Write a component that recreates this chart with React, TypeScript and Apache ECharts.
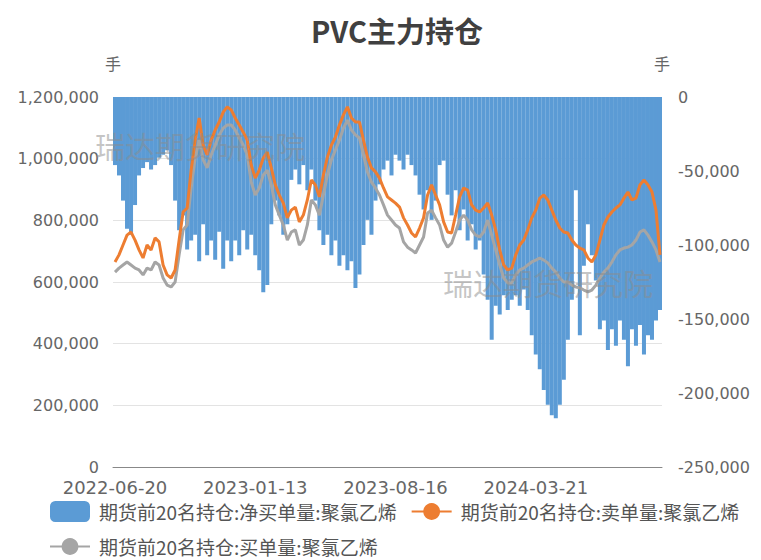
import React, { useEffect, useRef } from "react";
import * as echarts from "echarts";

// Labelled dates on the category axis (every 35th category)
const tickDates = ["2022-06-20", "2023-01-13", "2023-08-16", "2024-03-21"];
const tailCount = 32;
const stepsPerLabel = 35;

// 期货前20名持仓:净买单量:聚氯乙烯 (right axis, 手)
const netBuy = [
  -46000, -53000, -70000, -89000, -93000, -73000, -53000, -48000, -44000, -49000,
  -46000, -41000, -39000, -36000, -46000, -70000, -90000, -80000, -103000, -97000,
  -93000, -111000, -86000, -107000, -97000, -110000, -91000, -116000, -97000, -111000,
  -97000, -107000, -90000, -103000, -93000, -107000, -117000, -132000, -127000, -86000,
  -70000, -80000, -93000, -86000, -56000, -49000, -59000, -46000, -63000, -49000,
  -70000, -90000, -100000, -93000, -107000, -97000, -114000, -107000, -117000, -111000,
  -129000, -120000, -100000, -83000, -93000, -70000, -59000, -49000, -43000, -53000,
  -39000, -43000, -49000, -39000, -46000, -53000, -66000, -76000, -63000, -83000,
  -70000, -46000, -43000, -66000, -80000, -63000, -90000, -76000, -97000, -86000,
  -103000, -97000, -120000, -137000, -164000, -141000, -147000, -134000, -144000, -137000,
  -134000, -141000, -130000, -144000, -161000, -174000, -184000, -198000, -208000, -215000,
  -217000, -208000, -191000, -164000, -137000, -63000, -161000, -114000, -86000, -107000,
  -124000, -157000, -151000, -171000, -157000, -168000, -151000, -164000, -182000, -157000,
  -168000, -154000, -174000, -161000, -164000, -151000, -144000,
];

// 期货前20名持仓:卖单量:聚氯乙烯 (left axis, 手)
const sellVol = [
  665000, 688000, 720000, 752000, 762000, 736000, 704000, 678000, 720000, 704000,
  743000, 730000, 655000, 623000, 613000, 639000, 736000, 827000, 840000, 963000,
  1060000, 1132000, 1044000, 1012000, 1060000, 1093000, 1119000, 1151000, 1168000, 1158000,
  1132000, 1109000, 1086000, 1060000, 979000, 937000, 963000, 1002000, 1021000, 970000,
  915000, 882000, 856000, 808000, 833000, 843000, 795000, 817000, 866000, 931000,
  915000, 876000, 947000, 1005000, 1044000, 1070000, 1109000, 1142000, 1168000, 1132000,
  1119000, 1119000, 1060000, 1005000, 970000, 957000, 937000, 905000, 876000, 866000,
  856000, 843000, 808000, 785000, 759000, 746000, 775000, 808000, 882000, 915000,
  882000, 850000, 795000, 762000, 759000, 817000, 876000, 905000, 898000, 850000,
  833000, 827000, 840000, 856000, 817000, 769000, 704000, 655000, 639000, 645000,
  688000, 720000, 736000, 769000, 808000, 833000, 872000, 882000, 866000, 833000,
  801000, 775000, 762000, 759000, 736000, 720000, 710000, 704000, 678000, 665000,
  688000, 736000, 785000, 811000, 827000, 840000, 850000, 872000, 892000, 866000,
  872000, 915000, 931000, 915000, 892000, 833000, 688000,
];

// 期货前20名持仓:买单量:聚氯乙烯 (left axis, 手)
const buyVol = [
  632000, 645000, 655000, 665000, 655000, 645000, 639000, 623000, 645000, 639000,
  665000, 655000, 613000, 590000, 584000, 600000, 688000, 769000, 785000, 905000,
  1002000, 1060000, 996000, 970000, 1012000, 1044000, 1077000, 1099000, 1109000, 1109000,
  1093000, 1067000, 1044000, 1012000, 924000, 882000, 905000, 947000, 963000, 915000,
  850000, 817000, 785000, 736000, 762000, 769000, 720000, 736000, 785000, 866000,
  850000, 817000, 882000, 947000, 996000, 1028000, 1060000, 1099000, 1125000, 1093000,
  1077000, 1067000, 1012000, 957000, 924000, 905000, 882000, 850000, 817000, 801000,
  785000, 775000, 730000, 713000, 704000, 694000, 720000, 746000, 824000, 833000,
  808000, 785000, 736000, 713000, 726000, 762000, 801000, 817000, 801000, 769000,
  752000, 746000, 762000, 801000, 752000, 704000, 655000, 613000, 597000, 597000,
  623000, 639000, 645000, 655000, 665000, 671000, 678000, 671000, 662000, 645000,
  632000, 613000, 600000, 600000, 590000, 584000, 581000, 574000, 568000, 574000,
  590000, 613000, 632000, 645000, 665000, 688000, 704000, 710000, 713000, 720000,
  736000, 762000, 769000, 752000, 730000, 704000, 665000,
];

const leftTicks = { min: 0, max: 1200000, interval: 200000 };
const rightTicks = { min: -250000, max: 0, interval: 50000 };

const seriesNames = [
  "期货前20名持仓:净买单量:聚氯乙烯",
  "期货前20名持仓:卖单量:聚氯乙烯",
  "期货前20名持仓:买单量:聚氯乙烯",
];

function fmtDate(d: Date): string {
  const y = d.getUTCFullYear();
  const m = String(d.getUTCMonth() + 1).padStart(2, "0");
  const dd = String(d.getUTCDate()).padStart(2, "0");
  return `${y}-${m}-${dd}`;
}

function buildCategories(): string[] {
  const out: string[] = [];
  const day = 86400000;
  for (let k = 0; k < tickDates.length; k++) {
    const a = Date.parse(tickDates[k] + "T00:00:00Z");
    if (k < tickDates.length - 1) {
      const b = Date.parse(tickDates[k + 1] + "T00:00:00Z");
      const span = (b - a) / day;
      for (let j = 0; j < stepsPerLabel; j++) {
        out.push(fmtDate(new Date(a + Math.round((j * span) / stepsPerLabel) * day)));
      }
    } else {
      for (let j = 0; j < tailCount; j++) {
        out.push(fmtDate(new Date(a + j * 6 * day)));
      }
    }
  }
  return out;
}

const categories = buildCategories();

const FONT = "'Noto Sans CJK SC', 'Noto Sans', sans-serif";
const NUMFONT = "'DejaVu Sans', 'Noto Sans', sans-serif";
const LABEL = "#666666";

export default function App() {
  const ref = useRef<HTMLDivElement>(null);
  useEffect(() => {
    document.body.style.margin = "0";
    if (!ref.current) return;
    const chart = echarts.init(ref.current, undefined, { renderer: "svg" });
    const fmt = (v: number) => v.toLocaleString("en-US");
    chart.setOption({
      animation: false,
      textStyle: { fontFamily: FONT },
      title: {
        text: "PVC主力持仓",
        left: 392,
        top: 10,
        textAlign: "center",
        textStyle: { fontSize: 29, fontWeight: "bold", color: "#404040", fontFamily: FONT },
      },
      grid: { left: 113, right: 99, top: 97, bottom: 93, containLabel: false },
      legend: {
        left: 44,
        top: 496,
        width: 720,
        itemWidth: 40,
        itemHeight: 21,
        itemGap: 14,
        textStyle: { fontSize: 19, color: "#555555", fontFamily: FONT, padding: [0, 0, 0, 4] },
        data: [
          { name: seriesNames[0], icon: "roundRect" },
          { name: seriesNames[1] },
          { name: seriesNames[2] },
        ],
      },
      graphic: [
        {
          type: "text",
          left: 95,
          top: 130,
          z: 100,
          style: {
            text: "瑞达期货研究院",
            fontSize: 30,
            fontFamily: FONT,
            fill: "rgba(140,140,140,0.5)",
          },
        },
        {
          type: "text",
          left: 443,
          top: 267,
          z: 100,
          style: {
            text: "瑞达期货研究院",
            fontSize: 30,
            fontFamily: FONT,
            fill: "rgba(140,140,140,0.5)",
          },
        },
      ],
      xAxis: {
        type: "category",
        data: categories,
        boundaryGap: true,
        axisLine: { lineStyle: { color: "#888" } },
        axisTick: { alignWithLabel: true, interval: stepsPerLabel - 1, length: 6, lineStyle: { color: "#888" } },
        axisLabel: {
          interval: stepsPerLabel - 1,
          fontSize: 18,
          lineHeight: 16,
          color: LABEL,
          margin: 12,
          fontFamily: NUMFONT,
        },
        splitLine: { show: false },
      },
      yAxis: [
        {
          type: "value",
          name: "手",
          nameLocation: "end",
          nameGap: 26,
          nameTextStyle: { fontSize: 16, color: LABEL, align: "center" },
          min: leftTicks.min,
          max: leftTicks.max,
          interval: leftTicks.interval,
          axisLine: { show: false },
          axisTick: { show: false },
          axisLabel: { fontSize: 16, lineHeight: 16, color: LABEL, formatter: fmt, margin: 14, fontFamily: NUMFONT },
          splitLine: { lineStyle: { color: "#e3e3e3" } },
        },
        {
          type: "value",
          name: "手",
          nameLocation: "end",
          nameGap: 26,
          nameTextStyle: { fontSize: 16, color: LABEL, align: "center" },
          min: rightTicks.min,
          max: rightTicks.max,
          interval: rightTicks.interval,
          axisLine: { show: false },
          axisTick: { show: false },
          axisLabel: { fontSize: 16, color: LABEL, formatter: fmt, margin: 16, fontFamily: NUMFONT },
          splitLine: { show: false },
        },
      ],
      series: [
        {
          name: seriesNames[0],
          type: "bar",
          yAxisIndex: 1,
          data: netBuy,
          barCategoryGap: "0%",
          itemStyle: { color: "#5b9bd5" },
          z: 1,
        },
        {
          name: seriesNames[1],
          type: "line",
          yAxisIndex: 0,
          data: sellVol,
          symbol: "circle",
          symbolSize: 12,
          showSymbol: false,
          lineStyle: { color: "#ed7d31", width: 3 },
          itemStyle: { color: "#ed7d31" },
          z: 4,
        },
        {
          name: seriesNames[2],
          type: "line",
          yAxisIndex: 0,
          data: buyVol,
          symbol: "circle",
          symbolSize: 12,
          showSymbol: false,
          lineStyle: { color: "#a5a5a5", width: 3 },
          itemStyle: { color: "#a5a5a5" },
          z: 3,
        },
      ],
    });
    return () => chart.dispose();
  }, []);
  return <div ref={ref} style={{ width: 761, height: 560 }} />;
}
